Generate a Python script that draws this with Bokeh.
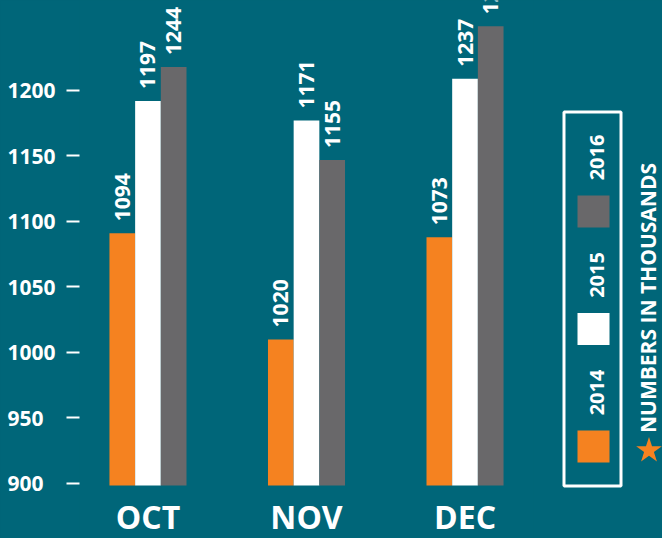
import math
from bokeh.plotting import figure
from bokeh.layouts import row
from bokeh.models import ColumnDataSource, FactorRange, Range1d, FixedTicker
from bokeh.transform import dodge
from bokeh.core.properties import value
from bokeh.embed import file_html
from bokeh.resources import INLINE

# ---------------- data ----------------
months = ["OCT", "NOV", "DEC"]
years = ["2014", "2015", "2016"]
# bar heights as drawn in the picture (thousands)
bars_2014 = [1091, 1010, 1088]
bars_2015 = [1192, 1177, 1209]
bars_2016 = [1218, 1147, 1249]
# value labels printed above the bars
labels_2014 = ["1094", "1020", "1073"]
labels_2015 = ["1197", "1171", "1237"]
labels_2016 = ["1244", "1155", "1262"]
y_ticks = [900, 950, 1000, 1050, 1100, 1150, 1200]
note = "NUMBERS IN THOUSANDS"

# ---------------- style ----------------
BG = "#006679"
COLORS = ["#f58220", "#ffffff", "#69686a"]
FONT = "Open Sans"
BASELINE = 898.5             # bars start slightly below the 900 tick
Y_LOW, Y_END = 858.0, 1268.7
BAR_W = 0.162
OFFSETS = [-BAR_W, 0.0, BAR_W]

src = ColumnDataSource(dict(
    month=months,
    v2014=bars_2014, v2015=bars_2015, v2016=bars_2016,
    l2014=labels_2014, l2015=labels_2015, l2016=labels_2016,
))

p = figure(width=533, height=538,
           x_range=FactorRange(*months, range_padding=-0.068, range_padding_units="absolute"),
           y_range=Range1d(Y_LOW, Y_END),
           output_backend="svg", toolbar_location=None,
           background_fill_color=BG, border_fill_color=BG, outline_line_color=None,
           min_border_left=79, min_border_right=0, min_border_top=0, min_border_bottom=0,
           styles={"background-color": BG})
p.xgrid.visible = False
p.ygrid.visible = False
p.xaxis.visible = False

for j, yr in enumerate(years):
    xs = dodge("month", OFFSETS[j], range=p.x_range)
    p.vbar(x=xs, top="v" + yr, bottom=BASELINE, width=BAR_W, source=src,
           fill_color=COLORS[j], line_color=None)
    p.text(x=xs, y="v" + yr, text="l" + yr, source=src, angle=math.pi / 2,
           text_align="left", text_baseline="middle", y_offset=-12,
           text_color="white", text_font=value(FONT), text_font_style="bold",
           text_font_size="21px")

# month names under the groups
p.text(x="month", y=BASELINE, text="month", source=src, y_offset=31,
       text_align="center", text_baseline="middle", text_color="white",
       text_font=value(FONT), text_font_style="bold", text_font_size="32px")

# y axis: dash ticks with labels (figure space keeps 3-digit labels left-aligned)
ya = p.yaxis[0]
ya.ticker = FixedTicker(ticks=y_ticks)
ya.axis_line_color = None
ya.major_tick_in = 0
ya.major_tick_out = 13
ya.major_tick_line_color = "white"
ya.major_tick_line_width = 2
ya.minor_tick_line_color = None
ya.major_label_standoff = 11
ya.major_label_text_color = "white"
ya.major_label_text_font = FONT
ya.major_label_text_font_style = "bold"
ya.major_label_text_font_size = "21px"
ya.major_label_overrides = {t: (str(t) + "\u2007" if t < 1000 else str(t)) for t in y_ticks}

# ---------------- legend panel ----------------
p2 = figure(width=129, height=538, x_range=Range1d(533, 662), y_range=Range1d(538, 0),
            output_backend="svg", toolbar_location=None,
            background_fill_color=BG, border_fill_color=BG, outline_line_color=None,
            min_border_left=0, min_border_right=0, min_border_top=0, min_border_bottom=0,
            styles={"background-color": BG})
p2.xaxis.visible = False
p2.yaxis.visible = False
p2.xgrid.visible = False
p2.ygrid.visible = False

p2.quad(left=563.5, right=620.5, top=111.5, bottom=485.5, fill_color=None,
        line_color="white", line_width=3)

STEP = 117.5
leg_src = ColumnDataSource(dict(
    year=years, color=COLORS,
    bottom=[462 - j * STEP for j in range(len(years))],
    top=[430 - j * STEP for j in range(len(years))],
    ty=[392 - j * STEP for j in range(len(years))],
))
p2.quad(left=577, right=609, top="top", bottom="bottom", fill_color="color",
        line_color=None, source=leg_src)
p2.text(x=596, y="ty", text="year", source=leg_src, angle=math.pi / 2,
        text_align="center", text_baseline="middle", text_color="white",
        text_font=value(FONT), text_font_style="bold", text_font_size="20px")

p2.text(x=[647.5], y=[297.5], text=[note], angle=math.pi / 2,
        text_align="center", text_baseline="middle", text_color="white",
        text_font=value(FONT), text_font_style="bold", text_font_size="21px")
p2.scatter(x=[648.5], y=[450], marker="star", size=27, fill_color=COLORS[0], line_color=None)

layout = row(p, p2, styles={"background-color": BG})
html = file_html(layout, INLINE)
html = html.replace("<body>", '<body style="background-color:%s;">' % BG, 1)
open("out.html", "w").write(html)
